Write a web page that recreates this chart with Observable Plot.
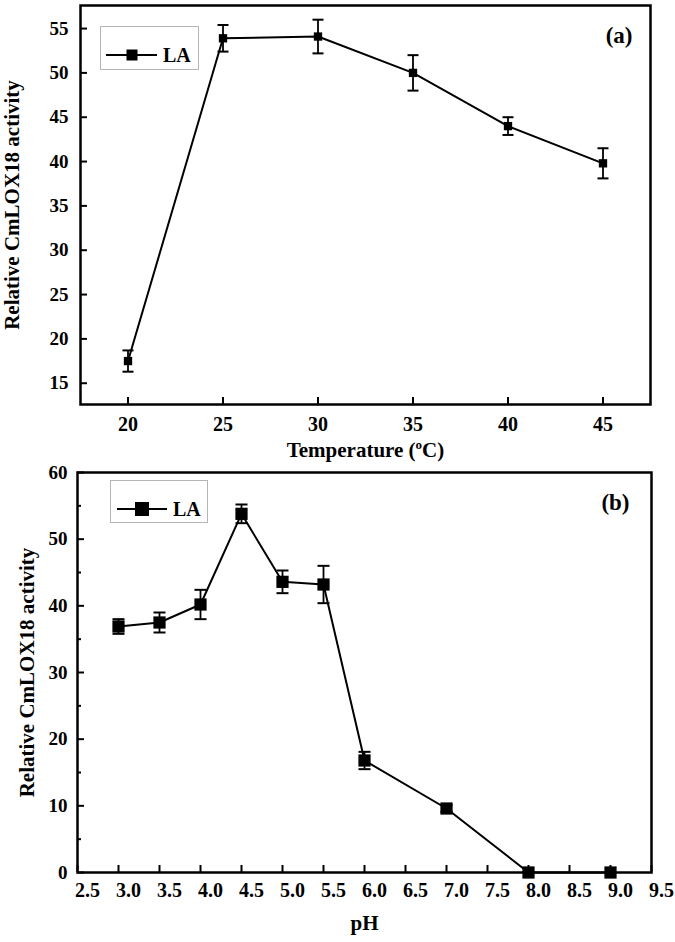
<!DOCTYPE html>
<html><head><meta charset="utf-8">
<script src="https://cdn.jsdelivr.net/npm/d3@7"></script>
<script src="https://cdn.jsdelivr.net/npm/@observablehq/plot@0.6"></script>
<style>
body{margin:0;background:#fff;}
#wrap{position:relative;width:675px;}
.panel{position:relative;width:675px;}
.panel svg{display:block;}
.legend{position:absolute;background:#fff;border:1px solid #b5b5b5;box-sizing:border-box;}
</style></head><body><div id="wrap"></div>
<script>
// Panel (a): temperature
const tempX = [20, 25, 30, 35, 40, 45];
const tempY = [17.5, 53.9, 54.1, 50.0, 44.0, 39.8];
const tempErr = [1.2, 1.5, 1.9, 2.0, 1.0, 1.7];
const tempXTicks = [20, 25, 30, 35, 40, 45];
const tempYTicks = [15, 20, 25, 30, 35, 40, 45, 50, 55];
// Panel (b): pH
const phX = [3.0, 3.5, 4.0, 4.5, 5.0, 5.5, 6.0, 7.0, 8.0, 9.0];
const phY = [36.9, 37.5, 40.2, 53.8, 43.6, 43.2, 16.8, 9.6, 0, 0];
const phErr = [1.1, 1.5, 2.2, 1.4, 1.7, 2.8, 1.3, 0.5, 0, 0];
const phXTicks = [2.5, 3.0, 3.5, 4.0, 4.5, 5.0, 5.5, 6.0, 6.5, 7.0, 7.5, 8.0, 8.5, 9.0, 9.5];
const phYTicks = [0, 10, 20, 30, 40, 50, 60];
const phYMinor = [5, 15, 25, 35, 45, 55];
const seriesName = "LA";
const yTitle = "Relative CmLOX18 activity";

const FONT = "'Liberation Serif', 'Times New Roman', serif";
const capSymbol = w => ({draw(ctx) { ctx.moveTo(-w, 0); ctx.lineTo(w, 0); }});

function makePanel(cfg) {
  const data = cfg.xs.map((x, i) => ({x, y: cfg.ys[i], e: cfg.errs[i]}));
  const errData = data.filter(d => d.e > 0);
  const pw = 675 - cfg.ml - cfg.mr, ph = cfg.height - cfg.mt - cfg.mb;
  const T = 7;
  const marks = [
    Plot.axisX({ticks: cfg.xTicks, tickSize: 0, tickPadding: cfg.xPad, fontSize: 20, dx: cfg.xDx, tickFormat: cfg.xFormat,
      label: null}),
    Plot.axisX({ticks: [], tickSize: 0, fontSize: 21, label: cfg.xLabel, labelAnchor: "center", labelOffset: cfg.xLabelOffset, labelArrow: "none"}),
    Plot.axisY({ticks: cfg.yTicks, tickSize: 0, tickPadding: cfg.yPad, fontSize: 19, label: null}),
    Plot.axisY({ticks: [], tickSize: 0, fontSize: 21, label: yTitle, labelAnchor: "center", labelOffset: cfg.yLabelOffset, labelArrow: "none"}),
    // inward ticks
    Plot.ruleX(cfg.xTicks, {x: d => d, insetTop: ph - T, stroke: "black", strokeWidth: 2}),
    Plot.ruleY(cfg.yTicks, {y: d => d, insetRight: pw - T, stroke: "black", strokeWidth: 2})
  ];
  if (cfg.yMinor) marks.push(Plot.ruleY(cfg.yMinor, {y: d => d, insetRight: pw - 4, stroke: "black", strokeWidth: 2}));
  marks.push(
    Plot.ruleX(errData, {x: "x", y1: d => d.y - d.e, y2: d => d.y + d.e, stroke: "black", strokeWidth: 1.8}),
    Plot.dot(errData, {x: "x", y: d => d.y + d.e, symbol: capSymbol(cfg.cap), stroke: "black", strokeWidth: 2, fill: "none"}),
    Plot.dot(errData, {x: "x", y: d => d.y - d.e, symbol: capSymbol(cfg.cap), stroke: "black", strokeWidth: 2, fill: "none"}),
    Plot.line(data, {x: "x", y: "y", stroke: "black", strokeWidth: 2}),
    Plot.dot(data, {x: "x", y: "y", symbol: "square", r: cfg.r, fill: "black"}),
    Plot.frame({stroke: "black", strokeWidth: 2.5}),
    Plot.text([cfg.tag], {frameAnchor: "top-right", dx: cfg.tagDx, dy: cfg.tagDy, fontSize: 23, fontWeight: "bold", fill: "black"})
  );
  const chart = Plot.plot({
    width: 675, height: cfg.height,
    marginTop: cfg.mt, marginBottom: cfg.mb, marginLeft: cfg.ml, marginRight: cfg.mr,
    style: {fontFamily: FONT, fontWeight: "bold", fontSize: "19px", color: "black", background: "white", overflow: "visible"},
    x: {domain: cfg.xDomain},
    y: {domain: cfg.yDomain},
    marks
  });
  const div = document.createElement("div");
  div.className = "panel";
  div.appendChild(chart);
  // legend
  const L = cfg.lg;
  const lg = document.createElement("div");
  lg.className = "legend";
  Object.assign(lg.style, {left: L.left + "px", top: L.top + "px", width: L.w + "px", height: L.h + "px"});
  lg.innerHTML = `<svg width="${L.w - 2}" height="${L.h - 2}" style="display:block">
    <line x1="${L.x1}" x2="${L.x2}" y1="${L.cy}" y2="${L.cy}" stroke="black" stroke-width="2"/>
    <rect x="${L.mx - L.s / 2}" y="${L.cy - L.s / 2}" width="${L.s}" height="${L.s}" fill="black"/>
    <text x="${L.tx}" y="${L.cy}" dy="0.35em" font-family="${FONT.replace(/'/g, "")}" font-weight="bold" font-size="20">${seriesName}</text>
  </svg>`;
  div.appendChild(lg);
  return div;
}

const wrap = document.getElementById("wrap");
const pa = makePanel({
  xs: tempX, ys: tempY, errs: tempErr, xTicks: tempXTicks, yTicks: tempYTicks,
  xFormat: d3.format("d"), xLabel: "Temperature (oC)", xPad: 12, yPad: 12, xDx: 0,
  xLabelOffset: 52, yLabelOffset: 76,
  height: 462, mt: 5, mb: 58, ml: 80, mr: 25,
  xDomain: [17.5, 47.5], yDomain: [12.6, 57.6],
  r: 4.7, cap: 5.5, tag: "(a)", tagDx: -18, tagDy: 21,
  lg: {left: 100, top: 26, w: 99, h: 44, x1: 5, x2: 56, mx: 31, cy: 28, s: 11, tx: 62}
});
const pb = makePanel({
  xs: phX, ys: phY, errs: phErr, xTicks: phXTicks, yTicks: phYTicks, yMinor: phYMinor,
  xFormat: d3.format(".1f"), xLabel: "pH", xPad: 10, yPad: 10, xDx: 10,
  xLabelOffset: 57, yLabelOffset: 58,
  height: 480, mt: 10, mb: 70, ml: 77, mr: 24,
  xDomain: [2.5, 9.5], yDomain: [0, 60],
  r: 6.9, cap: 6, tag: "(b)", tagDx: -22, tagDy: 21,
  lg: {left: 110, top: 18, w: 98, h: 43, x1: 6, x2: 56, mx: 31, cy: 28, s: 14, tx: 62}
});
wrap.appendChild(pa);
wrap.appendChild(pb);

// superscript "o" in the temperature axis title
pa.querySelectorAll("text").forEach(t => {
  if (t.textContent === "Temperature (oC)") {
    t.textContent = "";
    const ns = "http://www.w3.org/2000/svg";
    const a = document.createElementNS(ns, "tspan"); a.textContent = "Temperature (";
    const b = document.createElementNS(ns, "tspan"); b.textContent = "o"; b.setAttribute("dy", "-8"); b.setAttribute("font-size", "13");
    const c = document.createElementNS(ns, "tspan"); c.textContent = "C)"; c.setAttribute("dy", "8");
    t.append(a, b, c);
  }
});
</script>
</body></html>
